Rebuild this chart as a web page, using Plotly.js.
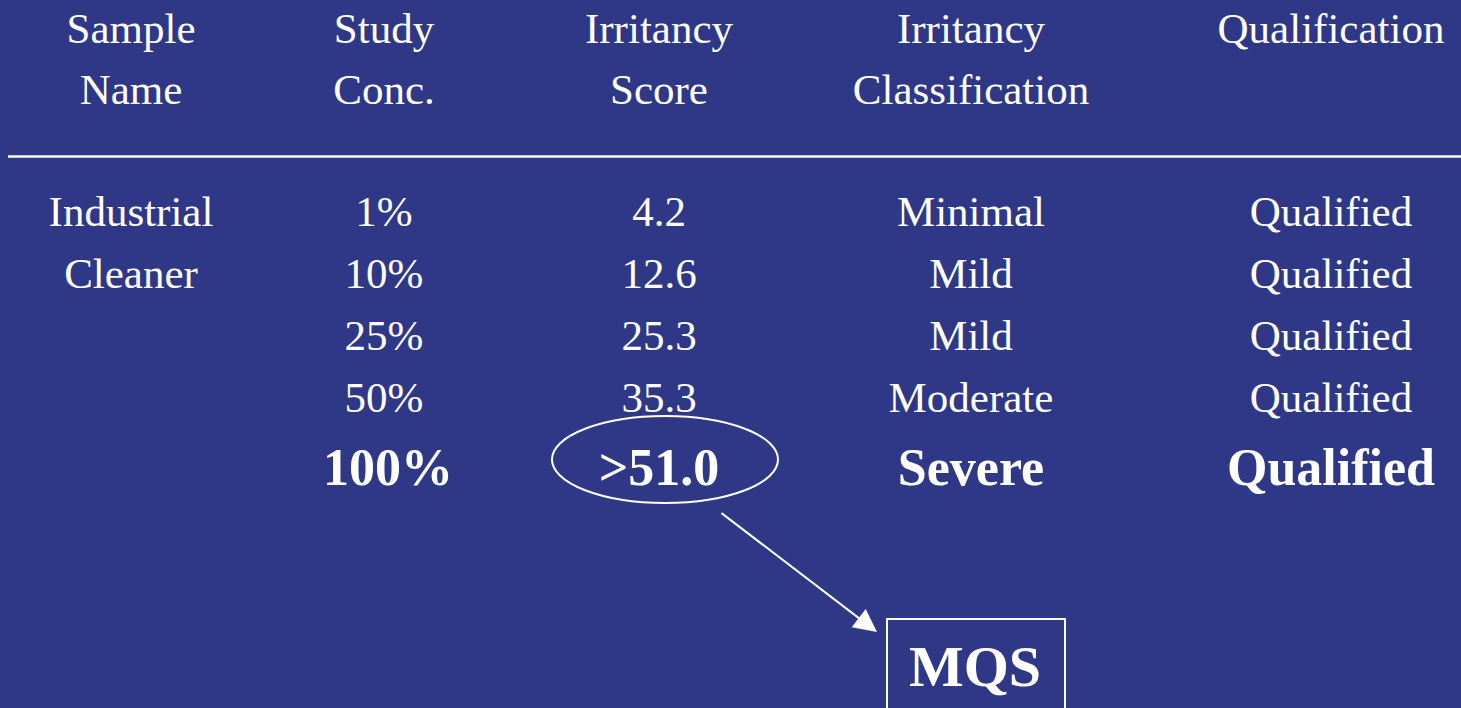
<!DOCTYPE html>
<html>
<head>
<meta charset="utf-8">
<script src="https://cdn.plot.ly/plotly-3.0.1.min.js"></script>
<style>html,body{margin:0;padding:0;background:#2F3886;}#chart{width:1461px;height:708px;}</style>
</head>
<body>
<div id="chart"></div>
<script>
// ---- data ----
const headerLine1 = ["Sample", "Study", "Irritancy", "Irritancy", "Qualification"];
const headerLine2 = ["Name", "Conc.", "Score", "Classification", ""];
const sampleName = ["Industrial", "Cleaner", "", "", ""];
const studyConc = ["1%", "10%", "25%", "50%", "100%"];
const irritancyScore = ["4.2", "12.6", "25.3", "35.3", ">51.0"];
const irritancyClass = ["Minimal", "Mild", "Mild", "Moderate", "Severe"];
const qualification = ["Qualified", "Qualified", "Qualified", "Qualified", "Qualified"];
const highlightRow = 4;
const calloutLabel = "MQS";

// ---- layout helpers ----
const W = 1461, H = 708;
const colX = [131, 384, 659, 971, 1331];
const headY = [32.5, 93.5];
const rowY0 = 215.5, rowStep = 62, boldRowY = 472;
const font = "Liberation Serif, Times New Roman, serif";
const white = "#FFFFFF";

const columns = [sampleName, studyConc, irritancyScore, irritancyClass, qualification];
const traces = [];

// headers
traces.push({
  type: "scatter", mode: "text", hoverinfo: "skip",
  x: colX.concat(colX),
  y: colX.map(() => headY[0]).concat(colX.map(() => headY[1])),
  text: headerLine1.concat(headerLine2),
  textposition: "middle center",
  textfont: {family: font, size: 43, color: white}
});

// normal rows
const nx = [], ny = [], nt = [];
const bx = [], by = [], bt = [];
columns.forEach((col, c) => {
  col.forEach((v, r) => {
    if (!v) return;
    if (r === highlightRow) {
      bx.push(colX[c] + (c === 1 ? 4 : 0)); by.push(boldRowY); bt.push("<b>" + v + "</b>");
    } else {
      nx.push(colX[c]); ny.push(rowY0 + r * rowStep); nt.push(v);
    }
  });
});
traces.push({
  type: "scatter", mode: "text", hoverinfo: "skip",
  x: nx, y: ny, text: nt, textposition: "middle center",
  textfont: {family: font, size: 43, color: white}
});
traces.push({
  type: "scatter", mode: "text", hoverinfo: "skip",
  x: bx, y: by, text: bt, textposition: "middle center",
  textfont: {family: font, size: 52, color: white}
});
traces.push({
  type: "scatter", mode: "text", hoverinfo: "skip",
  x: [975], y: [671], text: ["<b>" + calloutLabel + "</b>"], textposition: "middle center",
  textfont: {family: font, size: 58, color: white}
});

const layout = {
  width: W, height: H,
  margin: {l: 0, r: 0, t: 0, b: 0},
  paper_bgcolor: "#2F3886", plot_bgcolor: "#2F3886",
  showlegend: false,
  xaxis: {range: [0, W], visible: false, fixedrange: true},
  yaxis: {range: [H, 0], visible: false, fixedrange: true},
  shapes: [
    {type: "line", xref: "x", yref: "y", x0: 8, x1: 1461, y0: 156.5, y1: 156.5, line: {color: white, width: 2.5}},
    {type: "circle", xref: "x", yref: "y", x0: 552, x1: 778, y0: 416, y1: 503, line: {color: white, width: 2}},
    {type: "rect", xref: "x", yref: "y", x0: 887, x1: 1065, y0: 619, y1: 720, line: {color: white, width: 2}}
  ],
  annotations: [
    {x: 877, y: 632, ax: 720, ay: 512, xref: "x", yref: "y", axref: "x", ayref: "y",
     text: "", showarrow: true, arrowhead: 2, arrowsize: 2.3, arrowwidth: 2, arrowcolor: white}
  ]
};

Plotly.newPlot("chart", traces, layout, {displayModeBar: false, staticPlot: true});
</script>
</body>
</html>
